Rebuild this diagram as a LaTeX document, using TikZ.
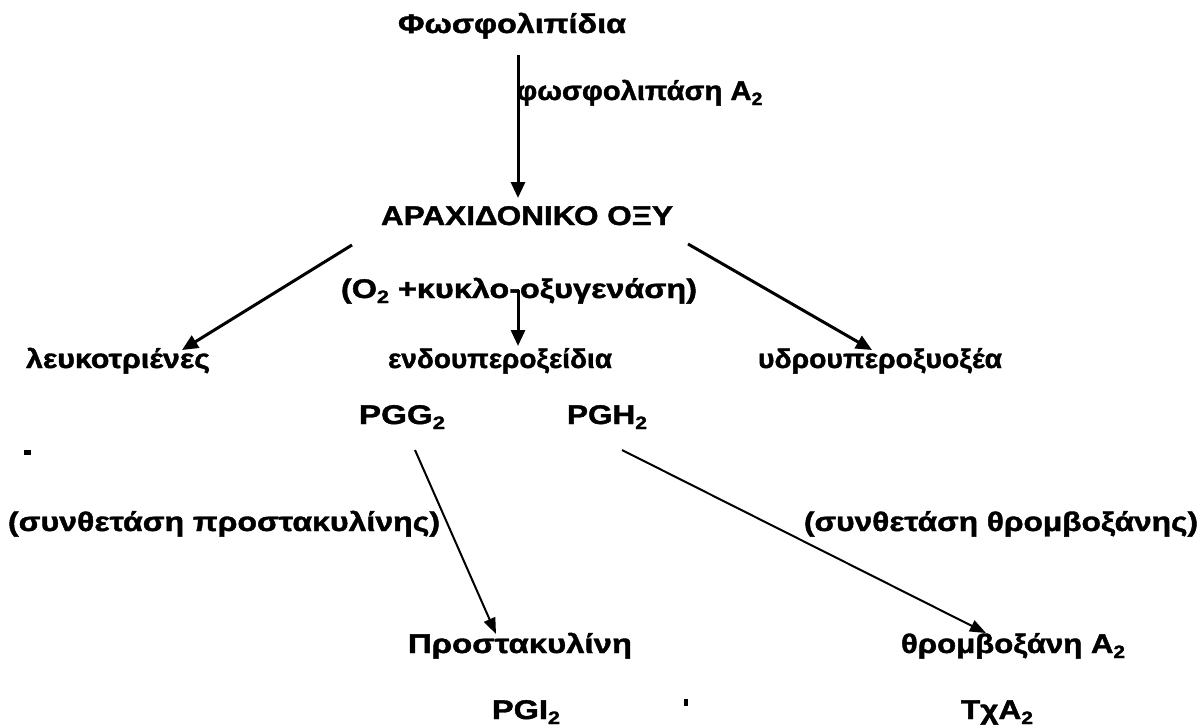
\documentclass[tikz,border=0pt]{standalone}
\usepackage{fontspec}
\usepackage{graphicx}
\setmainfont{Liberation Sans}[BoldFeatures={FakeBold=1.4}]
\usetikzlibrary{arrows.meta}
\newcommand{\subtwo}{\raisebox{-0.35ex}{\fontsize{9}{10}\selectfont 2}}
% set #2 at width #1 (pt), keeping its height
\newlength{\natw}
\newcommand{\fitw}[2]{\settowidth{\natw}{#2}\pgfmathsetmacro{\fr}{#1/\natw}\scalebox{\fr}[1]{#2}}
\tikzset{
  lbl/.style={font=\fontsize{13.5}{15}\selectfont\bfseries, inner sep=0pt, anchor=base},
  flow/.style={line width=1.5pt, -{Triangle[length=8pt,width=7pt]}},
  thinflow/.style={line width=1pt, -{Triangle[length=8pt,width=6pt]}}
}
\begin{document}
\begin{tikzpicture}[x=0.5pt,y=-0.5pt]
\useasboundingbox (0,0) rectangle (1201,725);
\fill[white] (0,0) rectangle (1201,725);

% substances and enzymes (x = centre, y = baseline)
\node[lbl] (phos)   at (512,33)  {\fitw{114}{Φωσφολιπίδια}};
\node[lbl,anchor=base west] (pla2) at (516,100) {\fitw{123}{φωσφολιπάση A\subtwo}};
\node[lbl] (arach)  at (527,225) {\fitw{146}{ΑΡΑΧΙΔΟΝΙΚΟ ΟΞΥ}};
\node[lbl] (cox)    at (519,298) {\fitw{178}{(O\subtwo\ +κυκλο-οξυγενάση)}};
\node[lbl] (leuko)  at (118,368) {\fitw{92}{λευκοτριένες}};
\node[lbl] (endo)   at (500,368) {\fitw{112}{ενδουπεροξείδια}};
\node[lbl] (hydro)  at (880,368) {\fitw{122}{υδρουπεροξυοξέα}};
\node[lbl] (pgg)    at (402,424) {\fitw{43}{PGG\subtwo}};
\node[lbl] (pgh)    at (607,424) {\fitw{40}{PGH\subtwo}};
\node[lbl] (synP)   at (224,531) {\fitw{216}{(συνθετάση προστακυλίνης)}};
\node[lbl] (synT)   at (1001,531) {\fitw{197}{(συνθετάση θρομβοξάνης)}};
\node[lbl] (prost)  at (520,653) {\fitw{112}{Προστακυλίνη}};
\node[lbl] (thromb) at (1013,653) {\fitw{112}{θρομβοξάνη A\subtwo}};
\node[lbl] (pgi)    at (526,719) {\fitw{34}{PGI\subtwo}};
\node[lbl] (txa)    at (997,719) {\fitw{36}{TχA\subtwo}};

% connector end points
\coordinate (a1) at (518,55);   \coordinate (b1) at (518,198);
\coordinate (a2) at (352,245);  \coordinate (b2) at (182,350);
\coordinate (a3) at (688,244);  \coordinate (b3) at (872,350);
\coordinate (a4) at (518,290);  \coordinate (b4) at (518,346);
\coordinate (a5) at (415,450);  \coordinate (b5) at (496,634);
\coordinate (a6) at (622,450);  \coordinate (b6) at (986,633);

\draw[flow] (a1) -- (b1);
\draw[flow] (a2) -- (b2);
\draw[flow] (a3) -- (b3);
\draw[flow] (a4) -- (b4);
\draw[thinflow] (a5) -- (b5);
\draw[thinflow] (a6) -- (b6);

% stray marks
\fill (24,450) rectangle (31,455);
\fill (684,699) rectangle (688,706);
\end{tikzpicture}
\end{document}
